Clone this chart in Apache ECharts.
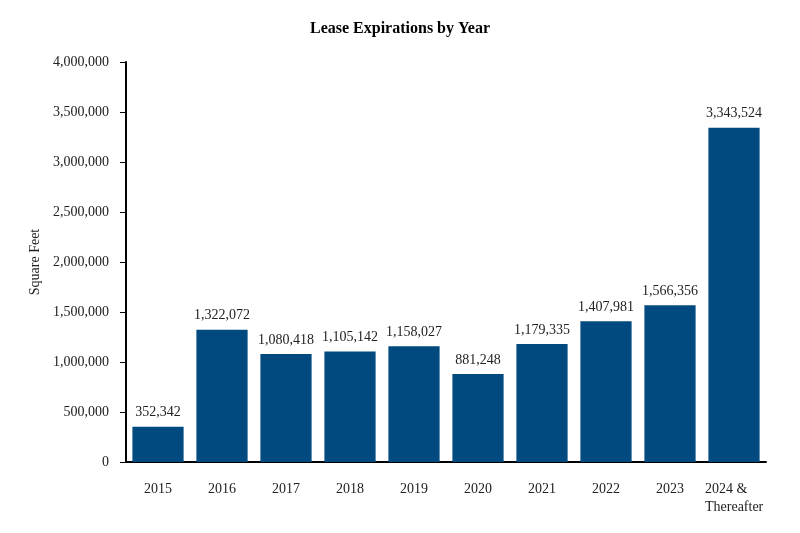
<!DOCTYPE html>
<html><head><meta charset="utf-8">
<script src="https://cdn.jsdelivr.net/npm/echarts@6/dist/echarts.min.js"></script>
<style>html,body{margin:0;padding:0;background:#fff}#c{width:800px;height:533px}</style>
</head><body><div id="c"></div>
<script>
var categories = ['2015','2016','2017','2018','2019','2020','2021','2022','2023','2024 &\nThereafter'];
var squareFeet = [352342,1322072,1080418,1105142,1158027,881248,1179335,1407981,1566356,3343524];
var font = 'Liberation Serif';
var chart = echarts.init(document.getElementById('c'));
chart.setOption({
  animation:false,
  title:{text:'Lease Expirations by Year',left:'center',top:16,textStyle:{fontFamily:font,fontSize:16,fontWeight:'bold',color:'#000'}},
  grid:{left:126,right:34,top:62,bottom:71},
  xAxis:{type:'category',data:categories,
    axisLine:{lineStyle:{color:'#000',width:2}},
    axisTick:{alignWithLabel:true,interval:0,length:6,lineStyle:{color:'#000'}},
    axisLabel:{interval:0,fontFamily:font,fontSize:14,color:'#222',margin:18,lineHeight:18,verticalAlign:'top',
      formatter:function(v){
        if(v.indexOf('\n')<0) return v;
        return v.split('\n').map(function(s){return '{l|'+s+'}';}).join('\n');
      },
      rich:{l:{width:58,align:'left',fontFamily:font,fontSize:14,color:'#222',lineHeight:18}}}},
  yAxis:{type:'value',min:0,max:4000000,interval:500000,name:'Square Feet',nameLocation:'middle',nameGap:79,
    nameTextStyle:{fontFamily:font,fontSize:14,color:'#222'},
    axisLine:{show:true,lineStyle:{color:'#000',width:2}},
    axisTick:{show:true,length:6,lineStyle:{color:'#000'}},
    splitLine:{show:false},
    axisLabel:{fontFamily:font,fontSize:14,color:'#222',margin:17,formatter:function(v){return v.toLocaleString('en-US');}}},
  series:[{type:'bar',data:squareFeet,barCategoryGap:'20%',itemStyle:{color:'#004A7F'},
    label:{show:true,position:'top',distance:7,fontFamily:font,fontSize:14,color:'#222',formatter:function(p){return p.value.toLocaleString('en-US');}}}]
});
</script></body></html>
